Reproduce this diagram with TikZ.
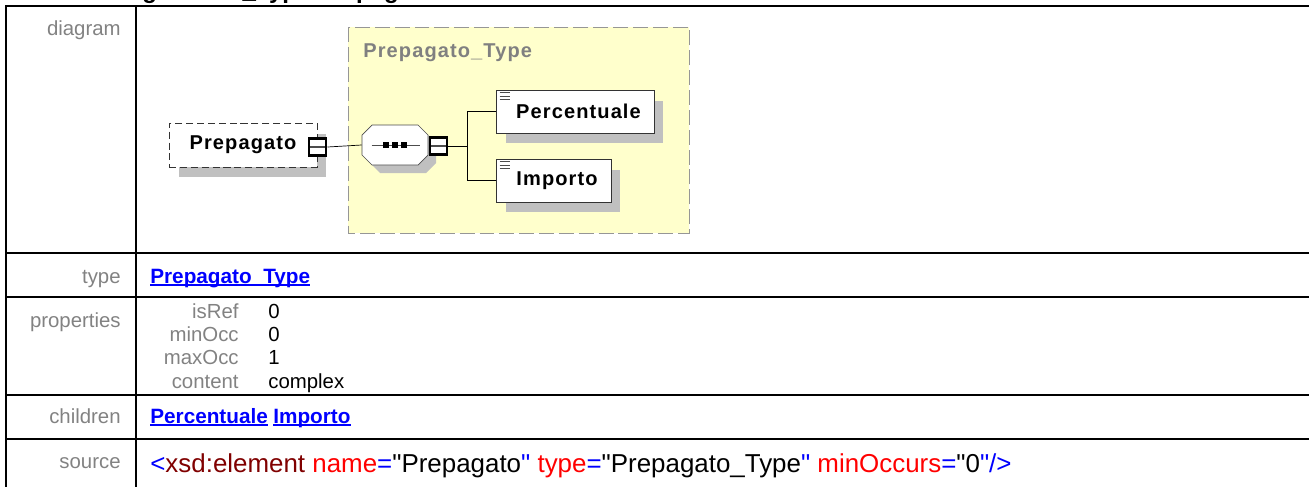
\documentclass[tikz,border=0pt]{standalone}
\usepackage{fontspec}
\setmainfont{Liberation Sans}
\newfontfamily\diagfont[LetterSpace=5.5]{Liberation Sans}
\newfontfamily\srcfont{Liberation Sans}
\usetikzlibrary{shadows}
\definecolor{labelgray}{RGB}{130,130,130}
\definecolor{shadowgray}{RGB}{192,192,192}
\definecolor{typeyellow}{RGB}{255,255,204}
\definecolor{typeborder}{RGB}{150,150,150}
\definecolor{linkblue}{RGB}{0,0,255}
\definecolor{tagred}{RGB}{128,0,0}
\definecolor{attrred}{RGB}{255,0,0}

\begin{document}
\begin{tikzpicture}[x=0.02cm,y=-0.02cm,
  lbl/.style={anchor=base east,inner sep=0pt,text=labelgray,font=\fontsize{11.6}{13}\selectfont},
  val/.style={anchor=base west,inner sep=0pt,font=\fontsize{11.6}{13}\selectfont},
  link/.style={anchor=base west,inner sep=0pt,text=linkblue,font=\fontsize{11.8}{13}\selectfont\bfseries},
  elem/.style={draw=black!80,fill=white,inner sep=0pt,font=\diagfont\fontsize{11.4}{13}\selectfont\bfseries,
    drop shadow={shadow xshift=0.19cm,shadow yshift=-0.21cm,opacity=1,fill=shadowgray}},
  minusbox/.style={draw,line width=1.7pt,fill=white,minimum size=0.34cm,inner sep=0pt,
    path picture={\draw[black!70] (path picture bounding box.west) -- (path picture bounding box.east);}},
  rule/.style={line width=1.3pt}]
  \useasboundingbox (0,0) rectangle (1309,487);
  \clip (0,0) rectangle (1309,487);
  \node[anchor=base west,inner sep=0pt,font=\fontsize{13.7}{16}\selectfont\bfseries] (title) at (15,-1.5) {element Pagamento\_Type/Prepagato};
  \draw[rule] (6,487) -- (6,6) -- (1309,6);
  \draw[rule] (136,6) -- (136,487);
  \foreach \yy in {253,297,395,439}
    \draw[rule] (6,\yy) -- (1309,\yy);
  \node[lbl] (diaglbl) at (121,35) {diagram};
  \node[lbl] (typelbl) at (121,283) {type};
  \node[lbl] (proplbl) at (121,327) {properties};
  \node[lbl] (childlbl) at (121,423) {children};
  \node[lbl] (srclbl) at (121,468) {source};
  \node[link] (typelink) at (150,283) {Prepagato\_Type};
  \foreach \k/\v [count=\i] in {isRef/0,minOcc/0,maxOcc/1,content/complex}{
    \node[lbl] (pk\i) at (239,{295+23.3*\i}) {\k};
    \node[val] (pv\i) at (268,{295+23.3*\i}) {\v};
  }
  \node[link] (perclink) at (150,423) {Percentuale};
  \node[link] (implink) at (273,423) {Importo};
  \foreach \n in {typelink,perclink,implink}
    \draw[linkblue,line width=1pt] ([yshift=-1.3pt]\n.base west) -- ([yshift=-1.3pt]\n.base east);
  \node[anchor=base west,inner sep=0pt,font=\srcfont\fontsize{14.75}{17}\selectfont] (src) at (150,472)
    {\textcolor{linkblue}{<}\textcolor{tagred}{xsd:element} \textcolor{attrred}{name}\textcolor{linkblue}{=}"Prepagato\textcolor{linkblue}{"} \textcolor{attrred}{type}\textcolor{linkblue}{=}"Prepagato\_Type\textcolor{linkblue}{"} \textcolor{attrred}{minOccurs}\textcolor{linkblue}{=}"0\textcolor{linkblue}{"/>}};
  \filldraw[typeborder,fill=typeyellow,dash pattern=on 8.5pt off 2.8pt] (348,27) rectangle (689,233);
  \node[anchor=west,inner sep=0pt,text=typeborder!85!black,font=\diagfont\fontsize{11.4}{13}\selectfont\bfseries] (typename) at (363,53) {Prepagato\_Type};
  \node[elem,dash pattern=on 4pt off 2.2pt,minimum width=2.96cm,minimum height=0.88cm] (prep) at (243,145) {Prepagato\hspace{5pt}};
  \node[minusbox] (prepm) at (317.5,147) {};
  \node[minimum width=1.32cm,minimum height=0.8cm,inner sep=0pt] (seq) at (395,145) {};
  \fill[shadowgray] (380,133) -- (426,133) -- (436,143) -- (436,163) -- (426,173) -- (380,173) -- (370,163) -- (370,143) -- cycle;
  \filldraw[draw=black!70,fill=white] (372,125) -- (418,125) -- (428,135) -- (428,155) -- (418,165) -- (372,165) -- (362,155) -- (362,135) -- cycle;
  \node[minusbox] (seqm) at (438.5,146) {};
  \draw[black!70] ([xshift=0.2cm]seq.west) -- ([xshift=-0.16cm]seq.east);
  \foreach \dx in {-9,0,9}
    \fill ([xshift=\dx*0.02cm]seq.center) ++(-3,-3) rectangle ++(6,6);
  \node[elem,minimum width=3.16cm,minimum height=0.86cm] (perc) at (575,111.5) {\hspace{4pt}Percentuale};
  \node[elem,minimum width=2.3cm,minimum height=0.86cm] (imp) at (553.5,180.5) {\hspace{4pt}Importo};
  \foreach \n in {perc,imp}
    \foreach \dy in {3,6.5,10}
      \draw[black!70,line width=0.5pt] ([xshift=0.08cm,yshift=-\dy*0.02cm]\n.north west) -- ++(10,0);
  \coordinate (fork) at (467,146);
  \draw (prepm.east) -- (seq.west);
  \draw (seqm.east) -- (fork);
  \draw (fork) |- (perc.west);
  \draw (fork) |- (imp.west);
\end{tikzpicture}
\end{document}
